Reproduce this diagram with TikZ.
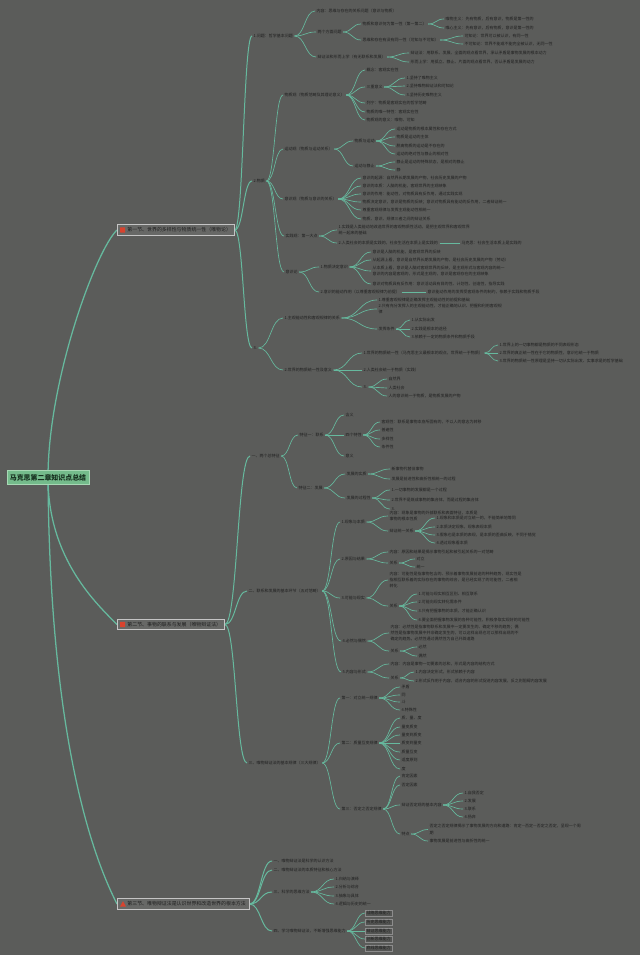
\documentclass[tikz,border=0pt]{standalone}
\usepackage{fontspec}
\newfontfamily\cjk{Noto Sans CJK SC}
\usetikzlibrary{calc}
\definecolor{bgc}{HTML}{5B5C5A}
\definecolor{lnc}{HTML}{66B99E}
\definecolor{txc}{HTML}{1F1F1F}
\definecolor{rootf}{HTML}{74BB8B}
\definecolor{rootd}{HTML}{A7D8B4}
\definecolor{roott}{HTML}{17301F}
\definecolor{secf}{HTML}{676866}
\definecolor{secd}{HTML}{C4C4C4}
\definecolor{icr}{HTML}{D9432E}
\definecolor{hbd}{HTML}{8C8C8C}
\definecolor{hbf}{HTML}{545553}
\pgfdeclarelayer{back}
\pgfsetlayers{back,main}
\newcommand\mmlink[3][]{\path ($(#2.east)!0.5!(#3.west)$) coordinate (lkm);\draw[lnA,#1] (#2.east) .. controls (lkm |- #2.east) and (lkm |- #3.west) .. (#3.west);}
\tikzset{
 tx/.style={anchor=west, inner xsep=1pt, inner ysep=0.3pt, text=txc, font=\cjk\fontsize{3}{4.6}\selectfont, align=left},
 hb/.style={tx, draw=hbd, fill=hbf, line width=0.3pt, inner xsep=1pt, inner ysep=0.8pt},
 lnA/.style={draw=lnc, line width=0.5pt},
 lnB/.style={line width=0.75pt},
 lnC/.style={line width=0.95pt},
 secbox/.style={anchor=west, draw=secd, fill=secf, line width=0.6pt, inner xsep=2.5pt, inner ysep=2.2pt, text=txc, font=\cjk\fontsize{3.7}{4.4}\selectfont},
 rootbox/.style={draw=rootd, fill=rootf, line width=0.6pt, text=roott, font=\cjk\bfseries\fontsize{5.2}{6}\selectfont, minimum width=61.5pt, minimum height=11pt, inner sep=0pt}
}
\begin{document}
\begin{tikzpicture}[x=0.75pt,y=-0.75pt]
\useasboundingbox (0,0) rectangle (640,955);
\begin{pgfonlayer}{back}
\fill[bgc] (0,0) rectangle (640,955);
\end{pgfonlayer}

% root and sections
\node[rootbox] (r) at (48,477.5) {马克思第二章知识点总结};
\node[secbox] (secA) at (117,230) {\hspace{5pt}第一节、世界的多样性与物质统一性（唯物论）};
\node[secbox] (secB) at (117,624.5) {\hspace{5pt}第二节、事物的联系与发展（唯物辩证法）};
\node[secbox] (secC) at (117,904) {\hspace{5pt}第三节、唯物辩证法是认识世界和改造世界的根本方法};
\fill[icr,rounded corners=0.4pt] ($(secA.west)+(3,-2.6)$) rectangle ++(5.2,5.2);
\fill[icr,rounded corners=0.4pt] ($(secB.west)+(3,-2.6)$) rectangle ++(5.2,5.2);
\fill[icr] ($(secC.west)+(3,2.6)$) -- ++(6,0) -- ++(-3,-5.4) -- cycle;

% ---------- section 1 ----------
\node[tx] (a1) at (252,36) {1.问题：哲学基本问题};
\node[tx] (b1) at (315,11) {内容：思维与存在的关系问题（意识与物质）};
\node[tx] (b2) at (316,32) {两个方面问题};
\node[tx] (c1) at (361,24) {物质和意识何为第一性（第一第二）};
\node[tx] (d1) at (444,19) {唯物主义：先有物质，后有意识，物质是第一性的};
\node[tx] (d2) at (444,28) {唯心主义：先有意识，后有物质，意识是第一性的};
\node[tx] (c2) at (361,40) {思维和存在有没有同一性（可知与不可知）};
\node[tx] (d3) at (463,36) {可知论：世界可以被认识，有同一性};
\node[tx] (d4) at (463,44) {不可知论：世界不能或不能完全被认识，无同一性};
\node[tx] (b3) at (316,57) {辩证法和形而上学（有无联系和发展）};
\node[tx] (d5) at (409,53) {辩证法：用联系、发展、全面的观点看世界，承认矛盾是事物发展的根本动力};
\node[tx] (d6) at (409,62) {形而上学：用孤立、静止、片面的观点看世界，否认矛盾是发展的动力};

\node[tx] (a2) at (252,181) {2.物质};
\node[tx] (e1) at (283,95) {物质观（物质范畴及其理论意义）};
\node[tx] (f1) at (365,70) {概念：客观实在性};
\node[tx] (f2) at (365,87) {三重意义};
\node[tx] (g1) at (405,78) {1.坚持了唯物主义};
\node[tx] (g2) at (405,86) {2.坚持唯物辩证法和可知论};
\node[tx] (g3) at (405,95) {3.坚持历史唯物主义};
\node[tx] (f3) at (365,103) {列宁：物质是客观实在的哲学范畴};
\node[tx] (f4) at (365,112) {物质的唯一特性：客观实在性};
\node[tx] (f5) at (365,120) {物质观的意义：唯物、可知};
\node[tx] (e2) at (283,149) {运动观（物质与运动关系）};
\node[tx] (h1) at (353,141) {物质与运动};
\node[tx] (i1) at (395,129) {运动是物质的根本属性和存在方式};
\node[tx] (i2) at (395,137) {物质是运动的主体};
\node[tx] (i3) at (395,146) {脱离物质的运动是不存在的};
\node[tx] (i4) at (395,154) {运动的绝对性与静止的相对性};
\node[tx] (h2) at (353,166) {运动与静止};
\node[tx] (i5) at (395,162) {静止是运动的特殊状态，是相对的静止};
\node[tx] (i6) at (395,170) {静};
\node[tx] (e3) at (283,199) {意识观（物质与意识的关系）};
\node[tx] (j1) at (361,178) {意识的起源：自然界长期发展的产物，社会历史发展的产物};
\node[tx] (j2) at (361,186) {意识的本质：人脑的机能，客观世界的主观映象};
\node[tx] (j3) at (361,194) {意识的作用：能动性，对物质具有反作用，通过实践实现};
\node[tx] (j4) at (361,202) {物质决定意识，意识是物质的反映；意识对物质具有能动的反作用，二者辩证统一};
\node[tx] (j5) at (361,210) {尊重客观规律与发挥主观能动性相统一};
\node[tx] (j6) at (361,219) {物质、意识、规律三者之间的辩证关系};
\node[tx] (e4) at (284,236) {实践观：第一大点};
\node[tx] (k1) at (337,230) {1.实践是人类能动地改造世界的客观物质性活动，是把主观世界和客观世界\\统一起来的基础};
\node[tx] (k2) at (337,243) {2.人类社会的本质是实践的，社会生活在本质上是实践的};
\node[tx] (k3) at (460,243) {马克思：社会生活本质上是实践的};
\node[tx] (e5) at (284,272) {意识论};
\node[tx] (l1) at (319,267) {1.物质决定意识};
\node[tx] (m1) at (371,252) {意识是人脑的机能，是客观世界的反映};
\node[tx] (m2) at (371,260) {从起源上看，意识是自然界长期发展的产物，是社会历史发展的产物（劳动）};
\node[tx] (m3) at (371,271) {从本质上看，意识是人脑对客观世界的反映，是主观形式与客观内容的统一\\意识的内容是客观的，形式是主观的，意识是客观存在的主观映象};
\node[tx] (m4) at (371,284) {意识对物质具有反作用：意识活动具有目的性、计划性、创造性，指导实践};
\node[tx] (l2) at (319,292) {2.意识的能动作用（以尊重客观规律为前提）};
\node[tx] (l3) at (426,292) {意识能动作用的发挥受客观条件的制约，依赖于实践和物质手段};

\node[tx] (a3) at (252,348) {3.};
\node[tx] (n1) at (283,318) {1.主观能动性和客观规律的关系};
\node[tx] (o1) at (377,300) {1.尊重客观规律是正确发挥主观能动性的前提和基础};
\node[tx] (o2) at (377,309) {2.只有充分发挥人的主观能动性，才能正确地认识、把握和利用客观规\\律};
\node[tx] (o3) at (377,329) {发挥条件};
\node[tx] (p1) at (410,320) {1.从实际出发};
\node[tx] (p2) at (410,329) {2.实践是根本的途径};
\node[tx] (p3) at (410,337) {3.依赖于一定的物质条件和物质手段};
\node[tx] (n2) at (283,370) {2.世界的物质统一性及意义};
\node[tx] (q1) at (362,353) {1.世界的物质统一性（马克思主义最根本的观点，世界统一于物质）};
\node[tx] (r1) at (498,345) {1.世界上的一切事物都是物质的不同表现形态};
\node[tx] (r2) at (498,353) {2.世界的真正统一性在于它的物质性，意识也统一于物质};
\node[tx] (r3) at (498,361) {3.世界的物质统一性原理是坚持一切从实际出发、实事求是的哲学基础};
\node[tx] (q2) at (362,370) {2.人类社会统一于物质（实践）};
\node[tx] (q3) at (362,387) {3.};
\node[tx] (qa) at (387,379) {自然界};
\node[tx] (qb) at (387,388) {人类社会};
\node[tx] (qc) at (387,396) {人的意识统一于物质，是物质发展的产物};

% ---------- section 2 ----------
\node[tx] (t1) at (250,456) {一、两个总特征};
\node[tx] (u1) at (298,435) {特征一：联系};
\node[tx] (v1) at (344,415) {含义};
\node[tx] (v2) at (344,435) {四个特性};
\node[tx] (w1) at (380,422) {客观性：联系是事物本身所固有的，不以人的意志为转移};
\node[tx] (w2) at (380,430) {普遍性};
\node[tx] (w3) at (380,439) {多样性};
\node[tx] (w4) at (380,447) {条件性};
\node[tx] (v3) at (344,456) {意义};
\node[tx] (u2) at (297,488) {特征二：发展};
\node[tx] (v4) at (345,474) {发展的实质};
\node[tx] (w5) at (390,469) {新事物代替旧事物};
\node[tx] (w6) at (390,479) {发展是前进性和曲折性相统一的过程};
\node[tx] (v5) at (345,498) {发展的过程性};
\node[tx] (w7) at (390,490) {1.一切事物的发展都是一个过程};
\node[tx] (w8) at (390,500) {2.世界不是既成事物的集合体，而是过程的集合体};
\node[tx] (w9) at (390,509) {3.};

\node[tx] (t2) at (247,591) {二、联系和发展的基本环节（五对范畴）};
\node[tx] (x1) at (340,522) {1.现象与本质};
\node[tx] (y1) at (388,516) {内容：现象是事物的外部联系和表面特征，本质是\\事物的根本性质};
\node[tx] (y2) at (388,531) {辩证统一关系};
\node[tx] (z1) at (435,518) {1.现象和本质是对立统一的，不能简单地等同};
\node[tx] (z2) at (435,527) {2.本质决定现象，现象表现本质};
\node[tx] (z3) at (435,535) {3.假象也是本质的表现，是本质的歪曲反映，不同于错觉};
\node[tx] (z4) at (435,543) {4.透过现象看本质};
\node[tx] (x2) at (340,559) {2.原因与结果};
\node[tx] (y3) at (388,552) {内容：原因和结果是揭示事物引起和被引起关系的一对范畴};
\node[tx] (y4) at (388,563) {关系};
\node[tx] (z5) at (415,559) {对立};
\node[tx] (z6) at (415,567) {统一};
\node[tx] (x3) at (340,598) {3.可能与现实};
\node[tx] (y5) at (388,580) {内容：可能性是指事物包含的、预示着事物发展前途的种种趋势，现实性是\\指相互联系着的实际存在的事物的综合，是已经实现了的可能性，二者相\\转化};
\node[tx] (y6) at (388,606) {关系};
\node[tx] (z7) at (417,594) {1.可能与现实相互区别、相互联系};
\node[tx] (z8) at (417,602) {2.可能向现实转化需条件};
\node[tx] (z9) at (417,611) {3.只有把握事物的本质，才能正确认识};
\node[tx] (z10) at (417,620) {4.要全面把握事物发展的各种可能性，积极争取实现好的可能性};
\node[tx] (x4) at (341,641) {4.必然与偶然};
\node[tx] (y7) at (389,633) {内容：必然性是指事物联系和发展中一定要发生的、确定不移的趋势；偶\\然性是指事物发展中并非确定发生的，可以这样出现也可以那样出现的不\\确定的趋势。必然性通过偶然性为自己开辟道路};
\node[tx] (y8) at (389,651) {关系};
\node[tx] (z11) at (417,647) {必然};
\node[tx] (z12) at (417,656) {偶然};
\node[tx] (x5) at (341,672) {5.内容与形式};
\node[tx] (y9) at (389,664) {内容：内容是事物一切要素的总和，形式是内容的结构方式};
\node[tx] (y10) at (389,678) {关系};
\node[tx] (z13) at (414,672) {1.内容决定形式，形式依赖于内容};
\node[tx] (z14) at (414,681) {2.形式反作用于内容，适合内容的形式促进内容发展，反之则阻碍内容发展};

\node[tx] (t3) at (247,763) {三、唯物辩证法的基本规律（三大规律）};
\node[tx] (x6) at (340,698) {第一：对立统一规律};
\node[tx] (aa1) at (400,687) {矛盾};
\node[tx] (aa2) at (400,695) {同};
\node[tx] (aa3) at (400,702) {斗};
\node[tx] (aa4) at (400,710) {4.特殊性};
\node[tx] (x7) at (340,743) {第二：质量互变规律};
\node[tx] (bb1) at (400,718) {质、量、度};
\node[tx] (bb2) at (400,727) {量变质变};
\node[tx] (bb3) at (400,735) {量变到质变};
\node[tx] (bb4) at (400,743) {质变到量变};
\node[tx] (bb5) at (400,752) {质量互变};
\node[tx] (bb6) at (400,760) {适度原则};
\node[tx] (bb7) at (400,769) {度};
\node[tx] (x8) at (340,809) {第三：否定之否定规律};
\node[tx] (cc1) at (400,776) {肯定因素};
\node[tx] (cc2) at (400,785) {否定因素};
\node[tx] (cc3) at (400,805) {辩证否定观的基本内容};
\node[tx] (dd1) at (463,793) {1.自我否定};
\node[tx] (dd2) at (463,801) {2.发展};
\node[tx] (dd3) at (463,809) {3.联系};
\node[tx] (dd4) at (463,817) {4.扬弃};
\node[tx] (cc4) at (400,834) {特点};
\node[tx] (ee1) at (428,829.5) {否定之否定规律揭示了事物发展的方向和道路：肯定—否定—否定之否定，呈现一个周\\期};
\node[tx] (ee2) at (428,841) {事物发展是前进性与曲折性的统一};

% ---------- section 3 ----------
\node[tx] (ff1) at (272,861) {一、唯物辩证法是科学的认识方法};
\node[tx] (ff2) at (272,870) {二、唯物辩证法的本质特征和核心方法};
\node[tx] (ff3) at (272,892) {三、科学的思维方法};
\node[tx] (gg1) at (334,879) {1.归纳与演绎};
\node[tx] (gg2) at (334,887) {2.分析与综合};
\node[tx] (gg3) at (334,896) {3.抽象与具体};
\node[tx] (gg4) at (334,904) {4.逻辑与历史的统一};
\node[tx] (ff4) at (272,931) {四、学习唯物辩证法，不断增强思维能力};
\node[hb] (hh1) at (365,913) {战略思维能力};
\node[hb] (hh2) at (365,922) {历史思维能力};
\node[hb] (hh3) at (365,931) {辩证思维能力};
\node[hb] (hh4) at (365,939) {创新思维能力};
\node[hb] (hh5) at (365,948) {底线思维能力};

% ---------- connectors ----------
\begin{pgfonlayer}{back}
\draw[lnA,lnC] (r.center) .. controls (48,380) and (96,250) .. (secA.west);
\draw[lnA,lnC] (r.center) .. controls (48,560) and (98,605) .. (secB.west);
\draw[lnA,lnC] (r.center) .. controls (50,760) and (100,870) .. (secC.west);
\foreach \c in {a1,a2,a3}{\mmlink[lnB]{secA}{\c}}
\foreach \c in {b1,b2,b3}{\mmlink{a1}{\c}}
\foreach \c in {c1,c2}{\mmlink{b2}{\c}}
\foreach \c in {d1,d2}{\mmlink{c1}{\c}}
\foreach \c in {d3,d4}{\mmlink{c2}{\c}}
\foreach \c in {d5,d6}{\mmlink{b3}{\c}}
\foreach \c in {e1,e2,e3,e4,e5}{\mmlink{a2}{\c}}
\foreach \c in {f1,f2,f3,f4,f5}{\mmlink{e1}{\c}}
\foreach \c in {g1,g2,g3}{\mmlink{f2}{\c}}
\foreach \c in {h1,h2}{\mmlink{e2}{\c}}
\foreach \c in {i1,i2,i3,i4}{\mmlink{h1}{\c}}
\foreach \c in {i5,i6}{\mmlink{h2}{\c}}
\foreach \c in {j1,j2,j3,j4,j5,j6}{\mmlink{e3}{\c}}
\foreach \c in {k1,k2}{\mmlink{e4}{\c}}
\mmlink{k2}{k3}
\foreach \c in {l1,l2}{\mmlink{e5}{\c}}
\foreach \c in {m1,m2,m3,m4}{\mmlink{l1}{\c}}
\mmlink{l2}{l3}
\foreach \c in {n1,n2}{\mmlink{a3}{\c}}
\foreach \c in {o1,o2,o3}{\mmlink{n1}{\c}}
\foreach \c in {p1,p2,p3}{\mmlink{o3}{\c}}
\foreach \c in {q1,q2,q3}{\mmlink{n2}{\c}}
\foreach \c in {r1,r2,r3}{\mmlink{q1}{\c}}
\foreach \c in {qa,qb,qc}{\mmlink{q3}{\c}}
\foreach \c in {t1,t2,t3}{\mmlink[lnB]{secB}{\c}}
\foreach \c in {u1,u2}{\mmlink{t1}{\c}}
\foreach \c in {v1,v2,v3}{\mmlink{u1}{\c}}
\foreach \c in {w1,w2,w3,w4}{\mmlink{v2}{\c}}
\foreach \c in {v4,v5}{\mmlink{u2}{\c}}
\foreach \c in {w5,w6}{\mmlink{v4}{\c}}
\foreach \c in {w7,w8,w9}{\mmlink{v5}{\c}}
\foreach \c in {x1,x2,x3,x4,x5}{\mmlink{t2}{\c}}
\foreach \c in {y1,y2}{\mmlink{x1}{\c}}
\foreach \c in {z1,z2,z3,z4}{\mmlink{y2}{\c}}
\foreach \c in {y3,y4}{\mmlink{x2}{\c}}
\foreach \c in {z5,z6}{\mmlink{y4}{\c}}
\foreach \c in {y5,y6}{\mmlink{x3}{\c}}
\foreach \c in {z7,z8,z9,z10}{\mmlink{y6}{\c}}
\foreach \c in {y7,y8}{\mmlink{x4}{\c}}
\foreach \c in {z11,z12}{\mmlink{y8}{\c}}
\foreach \c in {y9,y10}{\mmlink{x5}{\c}}
\foreach \c in {z13,z14}{\mmlink{y10}{\c}}
\foreach \c in {x6,x7,x8}{\mmlink{t3}{\c}}
\foreach \c in {aa1,aa2,aa3,aa4}{\mmlink{x6}{\c}}
\foreach \c in {bb1,bb2,bb3,bb4,bb5,bb6,bb7}{\mmlink{x7}{\c}}
\foreach \c in {cc1,cc2,cc3,cc4}{\mmlink{x8}{\c}}
\foreach \c in {dd1,dd2,dd3,dd4}{\mmlink{cc3}{\c}}
\foreach \c in {ee1,ee2}{\mmlink{cc4}{\c}}
\foreach \c in {ff1,ff2,ff3,ff4}{\mmlink[lnB]{secC}{\c}}
\foreach \c in {gg1,gg2,gg3,gg4}{\mmlink{ff3}{\c}}
\foreach \c in {hh1,hh2,hh3,hh4,hh5}{\mmlink{ff4}{\c}}
\end{pgfonlayer}
\end{tikzpicture}
\end{document}
